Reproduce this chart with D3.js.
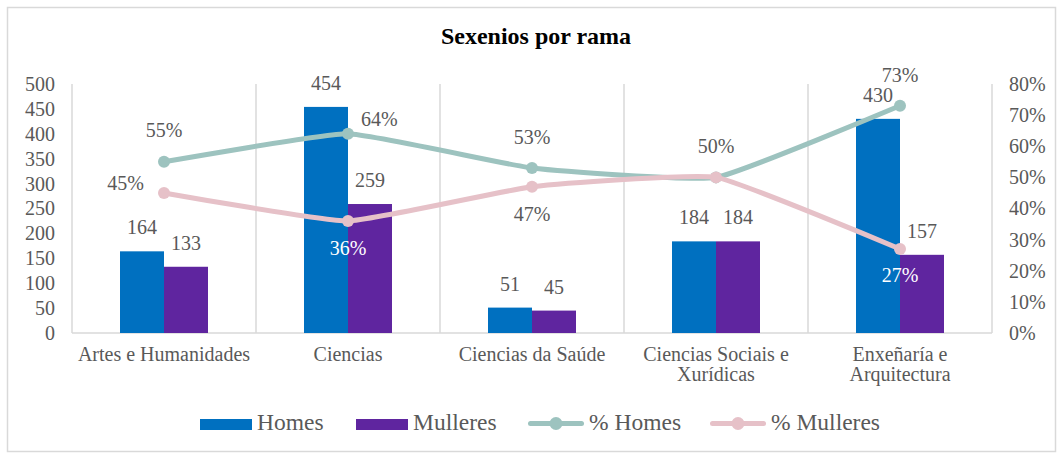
<!DOCTYPE html>
<html>
<head>
<meta charset="utf-8">
<script src="https://cdn.jsdelivr.net/npm/d3@7"></script>
<style>
  body { margin: 0; background: #fff; }
</style>
</head>
<body>
<div id="chart"></div>
<script>
// data
var categories = ["Artes e Humanidades", "Ciencias", "Ciencias da Saúde", "Ciencias Sociais e Xurídicas", "Enxeñaría e Arquitectura"];
var catLines = [["Artes e Humanidades"], ["Ciencias"], ["Ciencias da Saúde"], ["Ciencias Sociais e", "Xurídicas"], ["Enxeñaría e", "Arquitectura"]];
var homes = [164, 454, 51, 184, 430];
var mulleres = [133, 259, 45, 184, 157];
var pctHomes = [0.55, 0.64, 0.53, 0.50, 0.73];
var pctMulleres = [0.45, 0.36, 0.47, 0.50, 0.27];
var leftTicks = [0, 50, 100, 150, 200, 250, 300, 350, 400, 450, 500];
var rightTicks = [0, 0.1, 0.2, 0.3, 0.4, 0.5, 0.6, 0.7, 0.8];

var W = 1063, H = 457;
var margin = {top: 84, right: 71, bottom: 124, left: 72};
var FONT = "'Liberation Serif', 'Times New Roman', 'DejaVu Serif', serif";
var textCol = "#595959", gridCol = "#d9d9d9";
var cBlue = "#0070c0", cPurple = "#5f259f", cTeal = "#9dc3bf", cPink = "#e6c1c8";

var svg = d3.select("#chart").append("svg")
    .attr("width", W)
    .attr("height", H)
    .style("font-family", FONT);

// chart border
svg.append("rect")
    .attr("x", 7.5).attr("y", 7.5)
    .attr("width", 1048).attr("height", 444)
    .attr("fill", "#fff")
    .attr("stroke", gridCol)
    .attr("stroke-width", 1.5);

var x = d3.scaleBand()
    .domain(categories)
    .range([margin.left, W - margin.right]);

var xs = d3.scaleBand()
    .domain(["Homes", "Mulleres"])
    .range([x.bandwidth() / 2 - 44, x.bandwidth() / 2 + 44]);

var y = d3.scaleLinear()
    .domain([0, 500])
    .range([H - margin.bottom, margin.top]);

var yR = d3.scaleLinear()
    .domain([0, 0.8])
    .range([H - margin.bottom, margin.top]);

// vertical gridlines at category boundaries
var bounds = categories.map(function (c) { return x(c); }).concat([x.range()[1]]);
svg.append("g").selectAll("line")
    .data(bounds)
    .enter().append("line")
    .attr("x1", function (d) { return d; })
    .attr("x2", function (d) { return d; })
    .attr("y1", y(500))
    .attr("y2", y(0))
    .attr("stroke", gridCol)
    .attr("stroke-width", 1.5);

// baseline
svg.append("line")
    .attr("x1", x.range()[0]).attr("x2", x.range()[1])
    .attr("y1", y(0)).attr("y2", y(0))
    .attr("stroke", gridCol)
    .attr("stroke-width", 1.5);

// left axis
var gl = svg.append("g")
    .attr("transform", "translate(" + margin.left + ",0)")
    .call(d3.axisLeft(y).tickValues(leftTicks).tickSize(0).tickPadding(17));
gl.attr("font-family", null);
gl.select(".domain").remove();
gl.selectAll("text")
    .style("font-family", FONT)
    .style("font-size", "20px")
    .style("fill", textCol);

// right axis
var gr = svg.append("g")
    .attr("transform", "translate(" + (W - margin.right) + ",0)")
    .call(d3.axisRight(yR).tickValues(rightTicks).tickSize(0).tickPadding(17)
        .tickFormat(d3.format(".0%")));
gr.attr("font-family", null);
gr.select(".domain").remove();
gr.selectAll("text")
    .style("font-family", FONT)
    .style("font-size", "20px")
    .style("fill", textCol);

// category labels
var cat = svg.append("g").selectAll("text")
    .data(categories)
    .enter().append("text")
    .attr("x", function (d) { return x(d) + x.bandwidth() / 2; })
    .attr("y", 361)
    .attr("text-anchor", "middle")
    .style("font-size", "20px")
    .style("fill", textCol);
cat.each(function (d, i) {
    var t = d3.select(this), px = t.attr("x");
    catLines[i].forEach(function (s, k) {
        t.append("tspan")
            .attr("x", px)
            .attr("dy", k === 0 ? 0 : 20)
            .text(s);
    });
});

// bars
var seriesBars = [
    {name: "Homes", values: homes, color: cBlue},
    {name: "Mulleres", values: mulleres, color: cPurple}
];
seriesBars.forEach(function (s) {
    var g = svg.append("g");
    g.selectAll("rect")
        .data(s.values)
        .enter().append("rect")
        .attr("x", function (d, i) { return x(categories[i]) + xs(s.name); })
        .attr("y", function (d) { return y(d); })
        .attr("width", xs.bandwidth())
        .attr("height", function (d) { return y(0) - y(d); })
        .attr("fill", s.color);
    g.selectAll("text")
        .data(s.values)
        .enter().append("text")
        .attr("x", function (d, i) { return x(categories[i]) + xs(s.name) + xs.bandwidth() / 2; })
        .attr("y", function (d) { return y(d) - 17; })
        .attr("text-anchor", "middle")
        .style("font-size", "20px")
        .style("fill", textCol)
        .text(function (d) { return d; });
});

// lines
var cx = function (i) { return x(categories[i]) + x.bandwidth() / 2; };
var line = d3.line()
    .x(function (d, i) { return cx(i); })
    .y(function (d) { return yR(d); })
    .curve(d3.curveCardinal.tension(0.62));

var seriesLines = [
    {name: "% Homes", values: pctHomes, color: cTeal,
     // label placement: [dx, dy, anchor, fill]
     labels: [[0, -25, "middle"], [13, -8, "start"], [0, -24, "middle"], [0, -24, "middle"], [0, -24, "middle"]]},
    {name: "% Mulleres", values: pctMulleres, color: cPink,
     labels: [[-20, -3, "end"], [0, 34, "middle", "#fff"], [0, 34, "middle"], null, [0, 33, "middle", "#fff"]]}
];
seriesLines.forEach(function (s) {
    var g = svg.append("g");
    g.append("path")
        .datum(s.values)
        .attr("d", line)
        .attr("fill", "none")
        .attr("stroke", s.color)
        .attr("stroke-width", 5)
        .attr("stroke-linecap", "round");
    g.selectAll("circle")
        .data(s.values)
        .enter().append("circle")
        .attr("cx", function (d, i) { return cx(i); })
        .attr("cy", function (d) { return yR(d); })
        .attr("r", 6)
        .attr("fill", s.color);
});
seriesLines.forEach(function (s) {
    var labs = [];
    s.values.forEach(function (v, i) {
        if (s.labels[i]) labs.push({v: v, i: i, p: s.labels[i]});
    });
    svg.append("g").selectAll("text")
        .data(labs)
        .enter().append("text")
        .attr("x", function (d) { return cx(d.i) + d.p[0]; })
        .attr("y", function (d) { return yR(d.v) + d.p[1]; })
        .attr("text-anchor", function (d) { return d.p[2]; })
        .style("font-size", "20px")
        .style("fill", function (d) { return d.p[3] || textCol; })
        .text(function (d) { return Math.round(d.v * 100) + "%"; });
});

// title
svg.append("text")
    .attr("x", 536)
    .attr("y", 44)
    .attr("text-anchor", "middle")
    .style("font-size", "24px")
    .style("font-weight", "bold")
    .style("fill", "#000")
    .text("Sexenios por rama");

// legend
var legendItems = [
    {name: "Homes", type: "bar", color: cBlue, x: 200, w: 52},
    {name: "Mulleres", type: "bar", color: cPurple, x: 356, w: 52},
    {name: "% Homes", type: "line", color: cTeal, x: 528, w: 56},
    {name: "% Mulleres", type: "line", color: cPink, x: 710, w: 56}
];
var ly = 424.5;
var lg = svg.append("g").selectAll("g")
    .data(legendItems)
    .enter().append("g")
    .attr("transform", function (d) { return "translate(" + d.x + "," + ly + ")"; });
lg.filter(function (d) { return d.type === "bar"; })
    .append("rect")
    .attr("x", 0).attr("y", -5.5)
    .attr("width", function (d) { return d.w; }).attr("height", 11)
    .attr("fill", function (d) { return d.color; });
lg.filter(function (d) { return d.type === "line"; })
    .append("line")
    .attr("x1", 2.5).attr("x2", function (d) { return d.w - 2.5; })
    .attr("y1", -1).attr("y2", -1)
    .attr("stroke", function (d) { return d.color; })
    .attr("stroke-width", 5)
    .attr("stroke-linecap", "round");
lg.filter(function (d) { return d.type === "line"; })
    .append("circle")
    .attr("cx", function (d) { return d.w / 2; }).attr("cy", -1).attr("r", 6.5)
    .attr("fill", function (d) { return d.color; });
lg.append("text")
    .attr("x", function (d) { return d.w + 5; })
    .attr("y", 5.5)
    .style("font-size", "23.5px")
    .style("fill", textCol)
    .text(function (d) { return d.name; });
</script>
</body>
</html>
